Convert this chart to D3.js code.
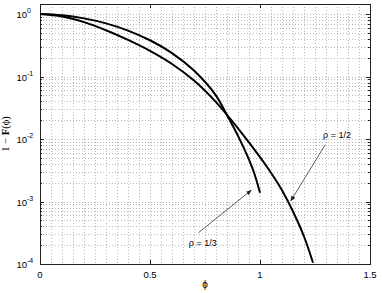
<!DOCTYPE html>
<html>
<head>
<meta charset="utf-8">
<script src="https://cdn.jsdelivr.net/npm/d3@7"></script>
<style>
  body { margin: 0; background: #fff; }
  svg text { font-family: "Liberation Sans", Arial, sans-serif; }
</style>
</head>
<body>
<div id="figure"></div>
<script>
// phi values and log10(1 - F)
var phiThird = [0, 0.1, 0.2, 0.3, 0.4, 0.5, 0.6, 0.7, 0.8, 0.85, 0.9, 0.95, 0.975, 1.0];
var logThird = [0, -0.02, -0.07, -0.15, -0.265, -0.42, -0.625, -0.905, -1.305, -1.62, -1.95, -2.33, -2.56, -2.86];
var phiHalf = [0, 0.1, 0.2, 0.3, 0.4, 0.5, 0.6, 0.7, 0.8, 0.9, 1.0, 1.05, 1.1, 1.15, 1.2, 1.241];
var logHalf = [0, -0.04, -0.13, -0.26, -0.415, -0.59, -0.80, -1.065, -1.41, -1.83, -2.29, -2.54, -2.82, -3.16, -3.56, -3.98];
var xTicks = [0, 0.5, 1, 1.5];
var yTicks = [1e-4, 1e-3, 1e-2, 1e-1, 1];
var yExps = ["-4", "-3", "-2", "-1", "0"];

var width = 382, height = 293;
var margin = { top: 4, right: 12, bottom: 29, left: 40 };
var iw = width - margin.left - margin.right;
var ih = height - margin.top - margin.bottom;

var svg = d3.select('#figure')
    .append("svg")
    .attr("width", width)
    .attr("height", height)

var g = svg.append("g")
    .attr("transform", "translate(" + margin.left + "," + margin.top + ")")

var x = d3.scaleLinear().domain([0, 1.5]).range([0, iw]);
var y = d3.scaleLog().domain([1e-4, Math.pow(10, 0.16)]).range([ih, 0]);

// grid
var vgrid = d3.range(1, 30).map(function (i) { return i * 0.05 });
g.selectAll(".vgrid")
    .data(vgrid)
    .enter()
    .append("line")
    .attr("class", "vgrid")
    .attr("x1", function (d) { return Math.round(x(d)) + 0.5 })
    .attr("x2", function (d) { return Math.round(x(d)) + 0.5 })
    .attr("y1", 0)
    .attr("y2", ih)
    .attr("stroke", "#b8b8b8")
    .attr("stroke-dasharray", "1,2")

var hgrid = [];
for (var e = -4; e <= 0; e++) {
    for (var m = 1; m <= 9; m++) {
        var v = m * Math.pow(10, e);
        if (v > 1e-4 && v < Math.pow(10, 0.16)) hgrid.push(v);
    }
}
g.selectAll(".hgrid")
    .data(hgrid)
    .enter()
    .append("line")
    .attr("class", "hgrid")
    .attr("x1", 0)
    .attr("x2", iw)
    .attr("y1", function (d) { return Math.round(y(d)) + 0.5 })
    .attr("y2", function (d) { return Math.round(y(d)) + 0.5 })
    .attr("stroke", "#b8b8b8")
    .attr("stroke-dasharray", "1,2")

// ticks inside the box
var tickLen = 4;
g.selectAll(".xt")
    .data(xTicks.slice(1, 3))
    .enter()
    .append("path")
    .attr("d", function (d) {
        var px = Math.round(x(d)) + 0.5;
        return "M" + px + "," + ih + "v" + (-tickLen) + "M" + px + ",0v" + tickLen;
    })
    .attr("stroke", "#222")

g.selectAll(".yt")
    .data(hgrid)
    .enter()
    .append("path")
    .attr("d", function (d) {
        var py = Math.round(y(d)) + 0.5;
        var l = yTicks.indexOf(d) >= 0 ? tickLen : 2;
        return "M0," + py + "h" + l + "M" + iw + "," + py + "h" + (-l);
    })
    .attr("stroke", "#222")

// box
g.append("rect")
    .attr("x", 0.5)
    .attr("y", 0.5)
    .attr("width", iw)
    .attr("height", ih)
    .attr("fill", "none")
    .attr("stroke", "#222")

// tick labels
g.selectAll(".xl")
    .data(xTicks)
    .enter()
    .append("text")
    .attr("x", function (d) { return x(d) })
    .attr("y", ih + 14)
    .attr("text-anchor", "middle")
    .attr("font-size", "9.5px")
    .text(function (d) { return d })

g.selectAll(".yl")
    .data(yTicks)
    .enter()
    .append("text")
    .attr("x", -13)
    .attr("y", function (d) { return y(d) + 4 })
    .attr("text-anchor", "end")
    .attr("font-size", "9.5px")
    .text("10")
g.selectAll(".ye")
    .data(yTicks)
    .enter()
    .append("text")
    .attr("x", -13)
    .attr("y", function (d) { return y(d) - 1 })
    .attr("font-size", "7px")
    .text(function (d, i) { return yExps[i] })

// curves
var line = d3.line()
    .x(function (d) { return x(d[0]) })
    .y(function (d) { return y(Math.pow(10, d[1])) })
    .curve(d3.curveCatmullRom)

var series = [d3.zip(phiThird, logThird), d3.zip(phiHalf, logHalf)];
g.selectAll(".curve")
    .data(series)
    .enter()
    .append("path")
    .attr("class", "curve")
    .attr("d", line)
    .attr("fill", "none")
    .attr("stroke", "#000")
    .attr("stroke-width", 2)

// annotations
svg.append("defs").append("marker")
    .attr("id", "arr")
    .attr("viewBox", "0 0 10 10")
    .attr("refX", 9)
    .attr("refY", 5)
    .attr("markerWidth", 7)
    .attr("markerHeight", 7)
    .attr("orient", "auto")
    .append("path")
    .attr("d", "M0,1L10,5L0,9z")
    .attr("fill", "#222")

var notes = [
    { t: "\u03c1 = 1/2", tx: 1.35, ty: Math.pow(10, -1.93), ax: 1.295, ay: Math.pow(10, -2.1), bx: 1.14, by: Math.pow(10, -2.99) },
    { t: "\u03c1 = 1/3", tx: 0.74, ty: Math.pow(10, -3.67), ax: 0.72, ay: Math.pow(10, -3.5), bx: 0.96, by: Math.pow(10, -2.82) }
];
g.selectAll(".arrow")
    .data(notes)
    .enter()
    .append("line")
    .attr("x1", function (d) { return x(d.ax) })
    .attr("y1", function (d) { return y(d.ay) })
    .attr("x2", function (d) { return x(d.bx) })
    .attr("y2", function (d) { return y(d.by) })
    .attr("stroke", "#333")
    .attr("stroke-width", 0.8)
    .attr("marker-end", "url(#arr)")
g.selectAll(".note")
    .data(notes)
    .enter()
    .append("text")
    .attr("x", function (d) { return x(d.tx) })
    .attr("y", function (d) { return y(d.ty) + 3 })
    .attr("text-anchor", "middle")
    .attr("font-size", "9px")
    .text(function (d) { return d.t })

// axis labels
svg.append("text")
    .attr("x", margin.left + iw / 2)
    .attr("y", 288)
    .attr("text-anchor", "middle")
    .attr("font-size", "10px")
    .text("\u03d5")

var ylab = svg.append("text")
    .attr("transform", "translate(9," + (margin.top + ih / 2) + ") rotate(-90)")
    .attr("text-anchor", "middle")
    .attr("font-size", "10.5px")
    .style("font-family", "'Liberation Serif', serif")
ylab.append("tspan").text("1 \u2212 ")
ylab.append("tspan").attr("font-weight", "bold").text("F")
ylab.append("tspan").text("(\u03d5)")
</script>
</body>
</html>
